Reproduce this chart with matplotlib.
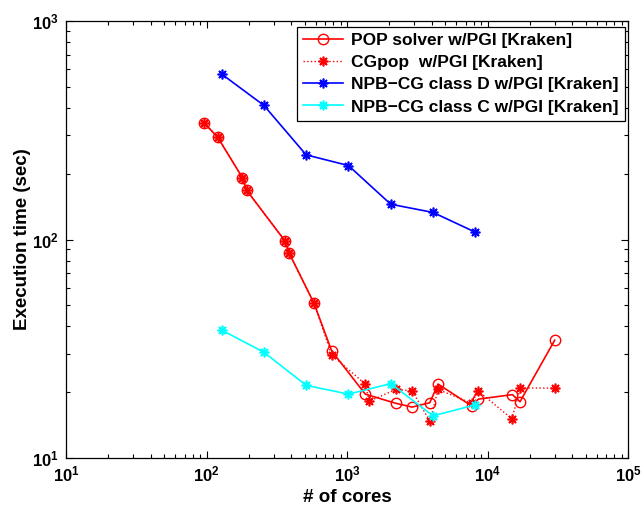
import matplotlib
matplotlib.use("Agg")
import matplotlib.pyplot as plt

# POP solver w/PGI [Kraken]
pop_cores = [96, 120, 180, 193, 364, 388, 583, 778, 1349, 2222, 2904, 3882,
             4446, 7722, 8610, 15030, 17040, 30070]
pop_time = [342, 294, 192, 168, 98, 86.5, 51, 30.9, 19.6, 17.8, 17.1, 17.9,
            21.8, 17.3, 18.6, 19.5, 18.1, 34.6]

# CGpop w/PGI [Kraken]
cgpop_cores = [96, 120, 180, 193, 364, 388, 583, 778, 1349, 1442, 2234, 2904,
               3900, 4446, 7722, 8590, 14930, 17110, 30200]
cgpop_time = [342, 294, 192, 168, 98, 86.5, 51, 29.6, 21.8, 18.2, 20.6, 20.3,
              14.7, 20.6, 17.8, 20.3, 15.1, 20.9, 20.9]

# NPB-CG class D / class C
npb_cores = [128, 256, 512, 1024, 2048, 4096, 8192]
npb_d_time = [572, 411, 244, 218, 145, 133, 108]
npb_c_time = [38.5, 30.5, 21.5, 19.6, 21.9, 15.6, 17.5]

plt.rcParams.update({
    "font.family": "Liberation Sans",
    "font.weight": "bold",
    "mathtext.fontset": "custom",
    "mathtext.rm": "Liberation Sans:bold",
    "mathtext.bf": "Liberation Sans:bold",
    "mathtext.default": "bf",
})

ASTER = (8, 2, 0)  # MATLAB-style '*' marker

fig = plt.figure(figsize=(6.43, 5.16), dpi=100)
ax = fig.add_axes([66 / 643, 1 - 458 / 516, 562 / 643, 437 / 516])

ax.loglog(pop_cores, pop_time, color="red", lw=1.2, marker="o", ms=7.5,
          mfc="none", mec="red", mew=1.0, label="POP solver w/PGI [Kraken]")
ax.loglog(cgpop_cores, cgpop_time, color="red", lw=1.0, ls=":", marker=ASTER,
          ms=7, mec="red", mew=1.2, label="CGpop  w/PGI [Kraken]")
ax.loglog(npb_cores, npb_d_time, color="blue", lw=1.2, marker=ASTER, ms=7,
          mec="blue", mew=1.2, label="NPB\u2212CG class D w/PGI [Kraken]")
ax.loglog(npb_cores, npb_c_time, color="cyan", lw=1.2, marker=ASTER, ms=7,
          mec="cyan", mew=1.2, label="NPB\u2212CG class C w/PGI [Kraken]")

ax.set_xlim(10, 1e5)
ax.set_ylim(10, 1e3)
ax.set_xlabel("# of cores", fontsize=13.5, fontweight="bold", labelpad=3)
ax.set_ylabel("Execution time (sec)", fontsize=13.5, fontweight="bold",
              labelpad=1)

ax.tick_params(which="both", direction="in", top=True, right=True,
               labelsize=12, width=0.8)
ax.tick_params(which="major", length=5, pad=5)
ax.tick_params(which="minor", length=3)
for s in ax.spines.values():
    s.set_linewidth(0.9)

leg = ax.legend(loc="upper right", bbox_to_anchor=(0.9947, 0.9863),
                borderaxespad=0, fancybox=False, framealpha=1,
                edgecolor="black", prop={"weight": "bold", "size": 12.5},
                handlelength=2.3, labelspacing=0.4, borderpad=0.35,
                handletextpad=0.5)
leg.get_frame().set_linewidth(0.9)
for t in leg.get_texts():
    t.set_fontweight("bold")

fig.savefig("out.png", dpi=100, facecolor="white")
